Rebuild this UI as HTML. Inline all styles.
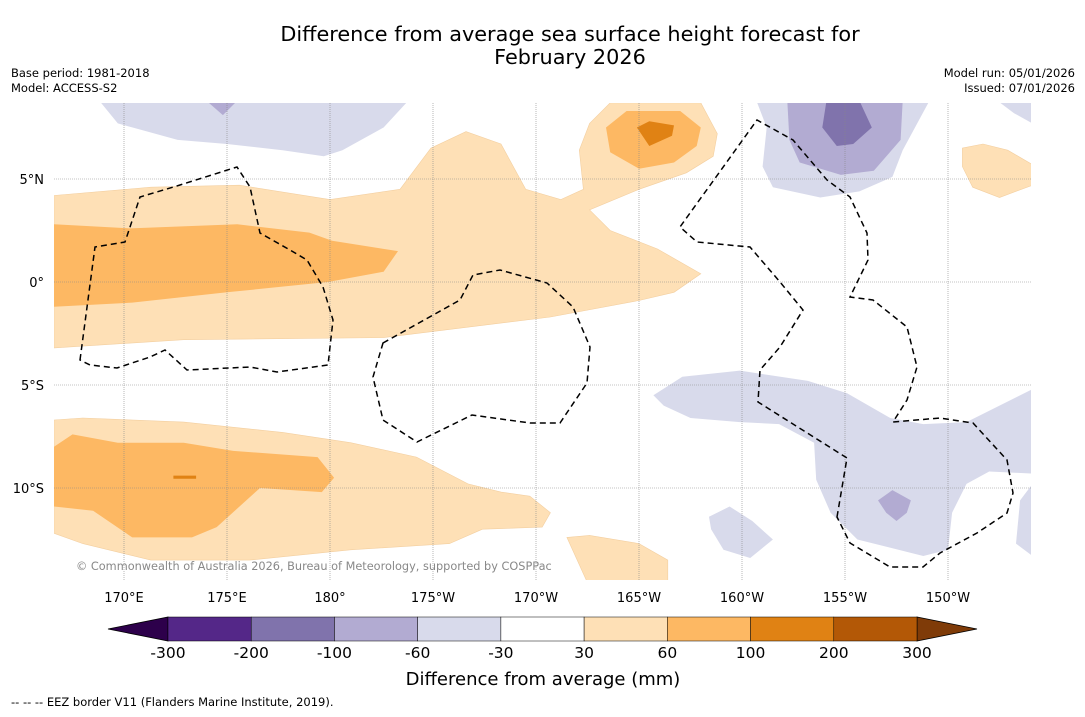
<!DOCTYPE html>
<html><head><meta charset="utf-8"><style>
body{margin:0;background:#fff;font-family:"DejaVu Sans","Liberation Sans",sans-serif;}
svg text{font-family:"DejaVu Sans","Liberation Sans",sans-serif;}
</style></head><body>
<svg id="chart" width="1085" height="713" viewBox="0 0 1085 713" xmlns="http://www.w3.org/2000/svg">
<rect width="1085" height="713" fill="#fff"/>
<text x="570" y="41" font-size="20.8" text-anchor="middle">Difference from average sea surface height forecast for</text>
<text x="570" y="64" font-size="20.8" text-anchor="middle">February 2026</text>
<text x="11" y="77" font-size="11.5">Base period: 1981-2018</text>
<text x="11" y="92" font-size="11.5">Model: ACCESS-S2</text>
<text x="1075" y="77" font-size="11.5" text-anchor="end">Model run: 05/01/2026</text>
<text x="1075" y="92" font-size="11.5" text-anchor="end">Issued: 07/01/2026</text>
<defs><clipPath id="mapclip"><rect x="54" y="103" width="977" height="477"/></clipPath></defs>
<g id="map" clip-path="url(#mapclip)"></g>
<g id="grid"></g>
<g id="eez" clip-path="url(#mapclip)"></g>
<text x="76" y="570" font-size="11.3" fill="#888">© Commonwealth of Australia 2026, Bureau of Meteorology, supported by COSPPac</text>
<g id="xlabels"></g>
<g id="ylabels"></g>
<g id="cbar"></g>
<text x="543" y="685" font-size="18" text-anchor="middle">Difference from average (mm)</text>
<text x="11" y="706" font-size="11.5">--  --  -- EEZ border V11 (Flanders Marine Institute, 2019).</text>
</svg>
<script>
// Data arrays
const lonTicks = [170,175,180,185,190,195,200,205,210];
const lonTickLabels = ["170°E","175°E","180°","175°W","170°W","165°W","160°W","155°W","150°W"];
const latTicks = [5,0,-5,-10];
const latTickLabels = ["5°N","0°","5°S","10°S"];
const cbarBounds = [-300,-200,-100,-60,-30,30,60,100,200,300];
const cbarColors = ["#542788","#8073ac","#b2abd2","#d8daeb","#ffffff","#fee0b6","#fdb863","#e08214","#b35806"];
// contour polygons [lon(0-360), lat], with level colour
const contA = [[166.6,4.2],[171.3,4.6],[175.6,4.7],[180,4],[183.4,4.5],[184.9,6.5],[186.6,7.3],[188.3,6.7],[189.5,4.5],[191.2,4],[192.3,4.5],[192.1,6.4],[192.6,7.7],[193.6,8.7],[198,8.7],[198.8,7.2],[198.6,6.1],[197.3,5.3],[195,4.5],[192.6,3.5],[193.6,2.5],[195.9,1.6],[198,0.4],[196.7,-0.5],[195,-0.9],[190.7,-1.7],[182.6,-2.7],[172.9,-2.8],[166.6,-3.2]];
const contB = [[166.6,2.8],[170.3,2.6],[175.5,2.8],[179,2.4],[180.1,2],[183.3,1.5],[182.6,0.5],[179.9,0],[175,-0.5],[170.4,-1],[166.6,-1.2]];
const contC = [[193.4,7.5],[194.4,8.3],[197,8.3],[198,7.5],[197.8,6.6],[196.7,5.8],[195,5.5],[193.6,6.3]];
const contD = [[194.9,7.5],[195.5,7.8],[196.7,7.6],[196.6,7.1],[195.5,6.6]];
const contE = [[166.6,-6.7],[168,-6.6],[172.9,-6.8],[177.7,-7.3],[181,-7.8],[184.2,-8.5],[186.7,-9.8],[188.3,-10.2],[189.7,-10.4],[190.7,-11.2],[190.3,-11.9],[187.4,-12],[185.8,-12.7],[181,-13],[176.1,-13.5],[171.3,-13.5],[168,-12.7],[166.6,-12.2]];
const contF = [[166.6,-8],[167.5,-7.4],[169.7,-7.8],[172.9,-7.8],[175.3,-8.2],[179.4,-8.5],[180.2,-9.5],[179.6,-10.2],[176.6,-10],[174.5,-11.9],[173.3,-12.4],[170.4,-12.4],[168.5,-11.1],[166.6,-10.9]];
const contF2 = [[172.4,-9.4],[173.5,-9.4],[173.5,-9.55],[172.4,-9.55]];
const contG = [[191.5,-12.4],[192.6,-12.3],[195,-12.7],[196.4,-13.5],[196.4,-14.6],[192.5,-14.6]];
const contH = [[210.7,6.5],[211.7,6.7],[212.9,6.4],[214.1,5.7],[214.1,4.7],[212.5,4.1],[211.2,4.6],[210.7,5.6]];
const contP1 = [[168.8,8.8],[183.8,8.8],[182.6,7.5],[180.6,6.4],[179.7,6.1],[177.7,6.4],[175,6.7],[172.6,6.9],[169.7,7.7]];
const contP1b = [[174,8.8],[175.5,8.8],[174.8,8.1]];
const contP2 = [[200.7,8.8],[209.1,8.8],[207.8,6.4],[207.3,5.1],[205.7,4.4],[203.8,4.1],[201.5,4.6],[201,5.6],[201.2,7.5]];
const contP3 = [[202.2,8.8],[207.8,8.8],[207.7,6.9],[206.4,5.4],[204.8,5.2],[202.8,5.8],[202.3,6.9]];
const contP4 = [[204.1,8.8],[205.7,8.8],[206.3,7.5],[205.4,6.7],[204.6,6.6],[203.9,7.5]];
const contP5 = [[212.4,8.8],[214.1,8.8],[214.1,7.7],[213.2,8.2]];
const contP6 = [[195.7,-5.5],[197.1,-4.6],[199.9,-4.3],[203.2,-4.8],[205.1,-5.4],[207.2,-6.6],[208.8,-6.9],[210.9,-6.8],[214.1,-5.2],[214.1,-9.3],[212,-9.2],[210.9,-9.8],[210.2,-11.2],[210,-13],[208.8,-13.3],[205.6,-12.5],[204.3,-11.2],[203.6,-9.6],[203.5,-7.8],[201.8,-6.9],[199.9,-6.8],[197.5,-6.6],[196.2,-6]];
const contP7 = [[206.6,-10.6],[207.3,-10.1],[208.2,-10.6],[208,-11.2],[207.5,-11.6],[207,-11.2]];
const contP8 = [[198.4,-11.4],[199.4,-10.9],[200.5,-11.6],[201.5,-12.5],[200.4,-13.4],[199.1,-13],[198.5,-12]];
const contP9 = [[214.1,-9.8],[213.5,-10.6],[213.3,-12.7],[214.1,-13.3]];

const NS="http://www.w3.org/2000/svg";
function xOf(lon){return 124+(lon-170)*20.6;}
function yOf(lat){return 282-lat*20.6;}
function mk(tag,attrs,parent){const e=document.createElementNS(NS,tag);for(const k in attrs)e.setAttribute(k,attrs[k]);parent.appendChild(e);return e;}
const map=document.getElementById('map');
const layers=[[contA,"#fee0b6","contour-30-60-north"],[contB,"#fdb863","contour-60-100-north"],[contC,"#fdb863","contour-60-100-northeast"],[contD,"#e08214","contour-100-200-northeast"],
[contE,"#fee0b6","contour-30-60-south"],[contF,"#fdb863","contour-60-100-south"],[contF2,"#e08214","contour-100-200-south"],[contG,"#fee0b6","contour-30-60-southeast"],[contH,"#fee0b6","contour-30-60-east"],
[contP1,"#d8daeb","contour-neg30-neg60-northwest"],[contP1b,"#b2abd2","contour-neg60-neg100-northwest"],[contP2,"#d8daeb","contour-neg30-neg60-northeast"],[contP3,"#b2abd2","contour-neg60-neg100-northeast"],[contP4,"#8073ac","contour-neg100-neg200-northeast"],[contP5,"#d8daeb","contour-neg30-neg60-corner"],
[contP6,"#d8daeb","contour-neg30-neg60-south"],[contP7,"#b2abd2","contour-neg60-neg100-south"],[contP8,"#d8daeb","contour-neg30-neg60-southwest"],[contP9,"#d8daeb","contour-neg30-neg60-edge"]];
layers.forEach(l=>{
  const p=mk('polygon',{points:l[0].map(d=>xOf(d[0]).toFixed(1)+','+yOf(d[1]).toFixed(1)).join(' '),fill:l[1],stroke:l[1]==="#fee0b6"?"#f3cfa0":"none","stroke-width":0.6},map);
  
  
});
const grid=document.getElementById('grid');
lonTicks.forEach((lon,i)=>{
  const ln=mk('line',{x1:xOf(lon),x2:xOf(lon),y1:103,y2:580,stroke:"#888","stroke-width":0.6,"stroke-dasharray":"1,1"},grid);
  
  
  const t=mk('text',{x:xOf(lon),y:602,"font-size":13,"text-anchor":"middle"},document.getElementById('xlabels'));
  t.textContent=lonTickLabels[i];
  
  
});
latTicks.forEach((lat,i)=>{
  const ln=mk('line',{x1:54,x2:1031,y1:yOf(lat),y2:yOf(lat),stroke:"#888","stroke-width":0.6,"stroke-dasharray":"1,1"},grid);
  
  
  const t=mk('text',{x:44,y:yOf(lat)+5,"font-size":13,"text-anchor":"end"},document.getElementById('ylabels'));
  t.textContent=latTickLabels[i];
  
  
});
// EEZ borders (decorative outlines)
const eez=document.getElementById('eez');
const eezPaths=["M80,360 L95,247 L125,242 L140,197 L180,185 L237,167 L250,187 L260,233 L290,250 L307,260 L323,287 L333,320 L328,365 L277,372 L250,367 L187,370 L165,350 L150,357 L117,368 L90,365 Z",
"M383,343 L460,300 L473,275 L500,270 L547,283 L573,307 L590,347 L587,383 L560,423 L530,423 L472,415 L417,442 L383,420 L373,377 Z",
"M837,517 L847,458 L758,402 L760,370 L780,347 L803,310 L780,282 L750,247 L697,242 L680,227 L757,120 L793,140 L827,180 L850,197 L867,233 L868,260 L850,297 L873,300 L907,327 L917,367 L907,400 L893,422 L940,418 L973,423 L1007,460 L1013,493 L1007,513 L977,533 L940,553 L923,567 L890,567 L850,543 Z"];
eezPaths.forEach(d=>{
  const p=mk('path',{d:d,fill:"none",stroke:"#000","stroke-width":1.5,"stroke-dasharray":"6,4"},eez);
  
  
});
// colorbar
const cb=document.getElementById('cbar');
const cbX0=168,cbX1=917,cbY=617,cbH=24,segW=(cbX1-cbX0)/cbarColors.length;
const lt=mk('polygon',{points:`108,${cbY+cbH/2} ${cbX0},${cbY} ${cbX0},${cbY+cbH}`,fill:"#2d004b",stroke:"#000","stroke-width":0.8},cb);


const rt=mk('polygon',{points:`977,${cbY+cbH/2} ${cbX1},${cbY} ${cbX1},${cbY+cbH}`,fill:"#7f3b08",stroke:"#000","stroke-width":0.8},cb);


cbarColors.forEach((c,i)=>{
  const r=mk('rect',{x:cbX0+i*segW,y:cbY,width:segW,height:cbH,fill:c,stroke:"#000","stroke-width":0.5},cb);
  
  
});
cbarBounds.forEach((v,i)=>{
  const t=mk('text',{x:cbX0+i*segW,y:658,"font-size":15.5,"text-anchor":"middle"},cb);
  t.textContent=v;
  
  
});
</script>
</body></html>
